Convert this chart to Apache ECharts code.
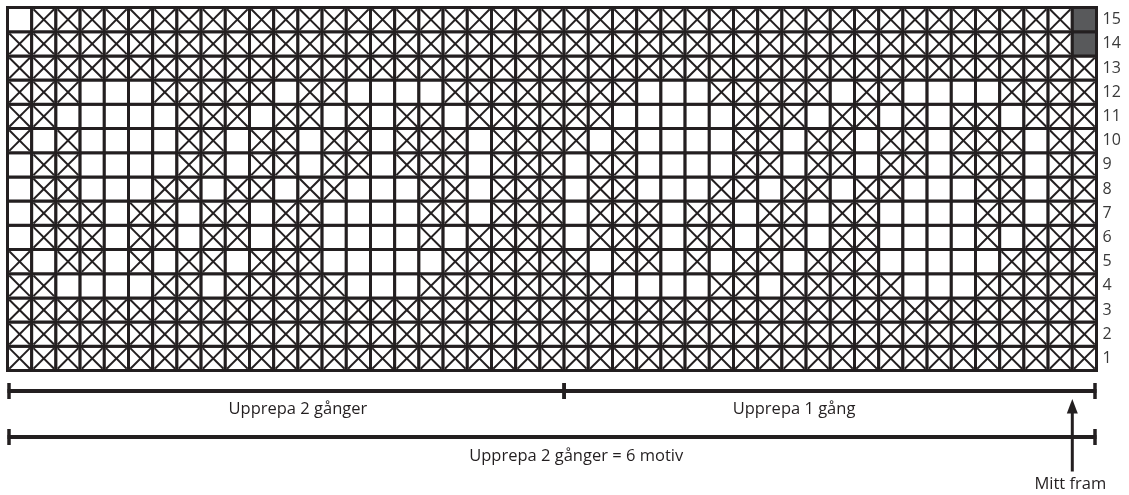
<!DOCTYPE html>
<html>
<head>
<meta charset="utf-8">
<script src="https://cdn.jsdelivr.net/npm/echarts@6/dist/echarts.min.js"></script>
<style>
html,body{margin:0;padding:0;background:#ffffff;}
#chart{width:1129px;height:495px;}
</style>
</head>
<body>
<div id="chart"></div>
<script>
// Row labels on the right (row 1 at the bottom)
const rowLabels = ['1','2','3','4','5','6','7','8','9','10','11','12','13','14','15'];
// 45 stitch columns
const columns = ['1','2','3','4','5','6','7','8','9','10','11','12','13','14','15','16','17','18','19','20',
  '21','22','23','24','25','26','27','28','29','30','31','32','33','34','35','36','37','38','39','40',
  '41','42','43','44','45'];
// Cell symbols per row, row 1 first: X = crossed cell, . = empty cell, # = dark cell
const chartRows = [
  /* 1 */ 'XXXXXXXXXXXXXXXXXXXXXXX' + 'XXXXXXXXXXXXXXXXXXXXXX',
  /* 2 */ 'XXXXXXXXXXXXXXXXXXXXXXX' + 'XXXXXXXXXXXXXXXXXXXXXX',
  /* 3 */ 'XXXXXXXXXXXXXXXXXXXXXXX' + 'XXXXXXXXXXXXXXXXXXXXXX',
  /* 4 */ 'XX....XX.XXXXX...XXXXXX' + 'XX....XX.XXXXX...XXXXX',
  /* 5 */ 'X.XX.X.XX.XXX.....XXXXX' + 'X.XX.X.XX.XXX.....XXXX',
  /* 6 */ '.XXX.XX.XX.XX....X.XXXX' + '.XXX.XX.XX.XX....X.XXX',
  /* 7 */ '.XXX.XX.XX.XX....XX.XXX' + '.XXX.XX.XX.XX....XX.XX',
  /* 8 */ '.XX...XX.XX.XX...XX.XXX' + '.XX...XX.XX.XX...XX.XX',
  /* 9 */ '.XX....XX.XX.XX.XXX.XXX' + '.XX....XX.XX.XX.XXX.XX',
  /*10 */ 'X.X....XX.XX.XX.XXX.XXX' + 'X.X....XX.XX.XX.XXX.XX',
  /*11 */ 'XX.....XXX.XX.X.XX.XXXX' + 'XX.....XXX.XX.X.XX.XXX',
  /*12 */ 'XXX...XXXXX.XX....XXXXX' + 'XXX...XXXXX.XX....XXXX',
  /*13 */ 'XXXXXXXXXXXXXXXXXXXXXXX' + 'XXXXXXXXXXXXXXXXXXXXXX',
  /*14 */ 'XXXXXXXXXXXXXXXXXXXXXXX' + 'XXXXXXXXXXXXXXXXXXXXX#',
  /*15 */ '.XXXXXXXXXXXXXXXXXXXXXX' + 'XXXXXXXXXXXXXXXXXXXXX#'
];
// Annotation spans, as column index ranges (inclusive)
const repeatA = {label: 'Upprepa 2 gånger', from: 0, to: 22};
const repeatB = {label: 'Upprepa 1 gång', from: 23, to: 44};
const repeatAll = {label: 'Upprepa 2 gånger = 6 motiv', from: 0, to: 44};
const centreLabel = 'Mitt fram';

const INK = '#231f20';
const DARK = '#58595b';
const FONT = '"Open Sans", "Noto Sans", sans-serif';
const TEXT_FONT = '16.5px ' + FONT;

const cells = [];
chartRows.forEach((s, r) => {
  for (let c = 0; c < s.length; c++) {
    const ch = s[c];
    cells.push([c, r, ch === 'X' ? 1 : (ch === '#' ? 2 : 0)]);
  }
});

const chart = echarts.init(document.getElementById('chart'), null, {renderer: 'canvas'});

const option = {
  backgroundColor: '#ffffff',
  animation: false,
  grid: {left: 7.5, right: 32.5, top: 7.5, bottom: 124.5, containLabel: false, outerBoundsMode: 'none'},
  xAxis: {type: 'category', data: columns, show: false},
  yAxis: {
    type: 'category', data: rowLabels, position: 'right',
    axisLine: {show: false}, axisTick: {show: false}, splitLine: {show: false},
    axisLabel: {margin: 6, fontSize: 16, color: '#3a3a3a', fontFamily: FONT}
  },
  series: [{
    type: 'custom',
    clip: false,
    data: cells,
    renderItem: function (params, api) {
      const t = api.value(2);
      const p = api.coord([api.value(0), api.value(1)]);
      const s = api.size([1, 1]);
      const x = p[0] - s[0] / 2, y = p[1] - s[1] / 2, w = s[0], h = s[1];
      const children = [{
        type: 'rect',
        shape: {x: x, y: y, width: w, height: h},
        style: {fill: t === 2 ? DARK : '#ffffff', stroke: INK, lineWidth: 3}
      }];
      if (t === 1) {
        const i = 1.8;
        children.push({type: 'line', shape: {x1: x + i, y1: y + i, x2: x + w - i, y2: y + h - i},
          style: {stroke: INK, lineWidth: 2}});
        children.push({type: 'line', shape: {x1: x + w - i, y1: y + i, x2: x + i, y2: y + h - i},
          style: {stroke: INK, lineWidth: 2}});
      }
      return {type: 'group', children: children};
    }
  }]
};

chart.setOption(option);

// Annotations positioned from the axes
const cx = i => chart.convertToPixel({xAxisIndex: 0}, columns[i]);
const cellW = cx(1) - cx(0);
const leftEdge = i => cx(i) - cellW / 2;
const rightEdge = i => cx(i) + cellW / 2;
const gridBottom = chart.convertToPixel({yAxisIndex: 0}, rowLabels[0]) + cellW / 2;
const lastCol = columns.length - 1;

function tickX(i, isStart) {
  if (isStart) return i === 0 ? leftEdge(i) + 1.5 : leftEdge(i);
  return i === lastCol ? rightEdge(i) - 1.5 : rightEdge(i);
}

function bracket(span, y, textY, textX) {
  const x1 = leftEdge(span.from), x2 = rightEdge(span.to);
  const t1 = tickX(span.from, true), t2 = tickX(span.to, false);
  return [
    {type: 'line', shape: {x1: x1, y1: y, x2: x2, y2: y}, style: {stroke: INK, lineWidth: 4}},
    {type: 'line', shape: {x1: t1, y1: y - 8, x2: t1, y2: y + 8}, style: {stroke: INK, lineWidth: 3.5}},
    {type: 'line', shape: {x1: t2, y1: y - 8, x2: t2, y2: y + 8}, style: {stroke: INK, lineWidth: 3.5}},
    {type: 'text', x: textX, y: textY, style: {text: span.label, fill: INK, font: TEXT_FONT,
      align: 'center', verticalAlign: 'middle', textAlign: 'center', textVerticalAlign: 'middle'}}
  ];
}

const yUpper = gridBottom + 20.5;
const yLower = gridBottom + 66.5;
const arrowX = leftEdge(44);
const elements = [].concat(
  bracket(repeatA, yUpper, yUpper + 18, leftEdge(12)),
  bracket(repeatB, yUpper, yUpper + 18, cx(32)),
  bracket(repeatAll, yLower, yLower + 19, cx(23)),
  [{type: 'line', shape: {x1: arrowX, y1: gridBottom + 40, x2: arrowX, y2: gridBottom + 101}, style: {stroke: INK, lineWidth: 3}},
   {type: 'polygon', shape: {points: [[arrowX, gridBottom + 28.5], [arrowX - 5.5, gridBottom + 43], [arrowX + 5.5, gridBottom + 43]]}, style: {fill: INK}},
   {type: 'text', x: arrowX - 2, y: gridBottom + 113.5, style: {text: centreLabel, fill: INK, font: TEXT_FONT,
      align: 'center', verticalAlign: 'middle', textAlign: 'center', textVerticalAlign: 'middle'}}]
);

chart.setOption({graphic: {elements: elements}});
</script>
</body>
</html>
